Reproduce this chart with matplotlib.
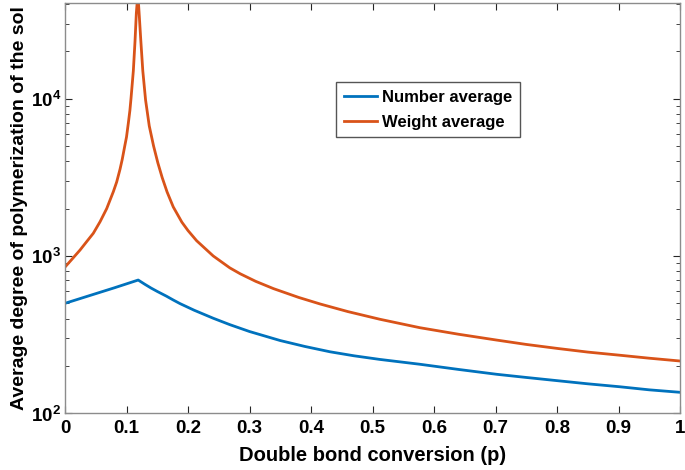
import matplotlib
matplotlib.use('Agg')
import matplotlib.pyplot as plt

plt.rcParams['font.family'] = 'Liberation Sans'
plt.rcParams['font.weight'] = 'bold'
plt.rcParams['mathtext.fontset'] = 'custom'
plt.rcParams['mathtext.rm'] = 'Liberation Sans:bold'
plt.rcParams['mathtext.bf'] = 'Liberation Sans:bold'

# values
p_number = [0, 0.04, 0.08, 0.119, 0.13, 0.14, 0.15, 0.165, 0.176, 0.187,
            0.21, 0.241, 0.268, 0.30, 0.35, 0.39, 0.431, 0.47, 0.512, 0.577,
            0.64, 0.702, 0.75, 0.802, 0.85, 0.902, 0.95, 1.0]
number_avg = [500, 560, 627, 703, 660, 625, 595, 555, 525, 498,
              452, 402, 366, 331, 290, 266, 246, 232, 220, 205,
              190, 177, 169, 161, 154, 147.5, 141, 136]

p_weight = [0, 0.012, 0.0244, 0.035, 0.046, 0.057, 0.0678, 0.0786, 0.084,
            0.0894, 0.093, 0.0976, 0.1, 0.103, 0.1055, 0.1073, 0.1111, 0.1138,
            0.1160, 0.1176, 0.1185, 0.1192, 0.1209, 0.1232, 0.1265, 0.131,
            0.137, 0.144, 0.151, 0.158, 0.166, 0.176, 0.190, 0.2, 0.214,
            0.241, 0.268, 0.285, 0.31, 0.339, 0.38, 0.415, 0.46, 0.512,
            0.577, 0.64, 0.702, 0.75, 0.802, 0.85, 0.902, 0.95, 1.0]
weight_avg = [850, 960, 1090, 1230, 1393, 1650, 2000, 2562, 2950,
              3550, 4100, 5100, 5700, 7000, 8400, 10000, 15000, 23000,
              35000, 42000, 55000, 42000, 33000, 23600, 15000, 9800,
              6700, 5000, 3900, 3150, 2550, 2050, 1640, 1450, 1250,
              1000, 840, 770, 690, 620, 545, 495, 443, 396,
              350, 318, 292, 274, 258, 245, 234, 224, 215]

x_ticks = [0, 0.1, 0.2, 0.3, 0.4, 0.5, 0.6, 0.7, 0.8, 0.9, 1]
x_ticklabels = ['0', '0.1', '0.2', '0.3', '0.4', '0.5', '0.6', '0.7', '0.8', '0.9', '1']
y_ticks = [1e2, 1e3, 1e4]
y_ticklabels = [r'$10^{2}$', r'$10^{3}$', r'$10^{4}$']

fig = plt.figure(figsize=(6.85, 4.7), dpi=100)
ax = fig.add_axes([0.0949, 0.1206, 0.8978, 0.873])

ax.plot(p_number, number_avg, color='#0072BD', lw=2, label='Number average')
ax.plot(p_weight, weight_avg, color='#D95319', lw=2, label='Weight average')

ax.set_yscale('log')
ax.set_xlim(0, 1)
ax.set_ylim(100, 40500)
ax.set_xticks(x_ticks)
ax.set_xticklabels(x_ticklabels)
ax.set_yticks(y_ticks)
ax.set_yticklabels(y_ticklabels)

for s in ax.spines.values():
    s.set_color('#8c8c8c')
    s.set_linewidth(1)
ax.tick_params(which='both', direction='in', top=True, right=True,
               color='#262626', labelsize=13.5)
ax.tick_params(axis='x', which='major', length=5, pad=5)
ax.tick_params(axis='y', which='major', length=5, pad=3)
ax.tick_params(which='minor', length=3)

ax.set_xlabel('Double bond conversion (p)', fontsize=14.5, fontweight='bold', labelpad=6)
ax.set_ylabel('Average degree of polymerization of the sol', fontsize=14,
              fontweight='bold', labelpad=2)

leg = ax.legend(loc='upper left', bbox_to_anchor=(0.4407, 0.8067), borderaxespad=0,
                fontsize=12, fancybox=False, handlelength=2.0, handletextpad=0.3,
                labelspacing=0.6, borderpad=0.45)
leg.get_frame().set_edgecolor('#555555')
leg.get_frame().set_linewidth(1)
leg.get_frame().set_alpha(1)

fig.savefig('out.png', dpi=100)
